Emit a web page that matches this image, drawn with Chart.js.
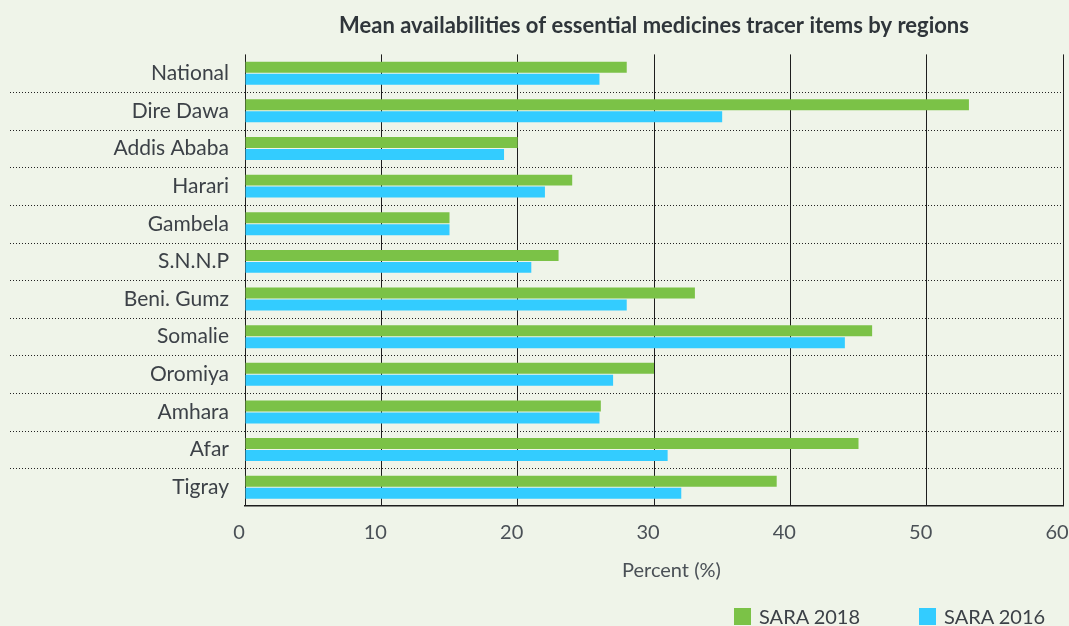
<!DOCTYPE html>
<html>
<head>
<meta charset="utf-8">
<script src="https://cdn.jsdelivr.net/npm/chart.js@4.4.1/dist/chart.umd.min.js"></script>
<style>
  html, body { margin: 0; padding: 0; background: #eff4e9; }
  #wrap { position: relative; width: 1069px; height: 626px; overflow: hidden; }
  .overlay { position: absolute; font-family: Lato, "Open Sans", sans-serif; font-size: 20px; line-height: 24px; white-space: nowrap; }
  #axis-title { left: 622px; top: 557px; color: #4a5056; }
  #legend { left: 734px; top: 604px; display: flex; gap: 59px; color: #3c4147; }
  #legend .item { display: flex; align-items: center; }
  #legend .swatch { width: 17px; height: 17px; margin-right: 8px; }
</style>
</head>
<body>
<div id="wrap">
  <canvas id="chart" width="1069" height="626"></canvas>
  <div id="axis-title" class="overlay">Percent (%)</div>
  <div id="legend" class="overlay"></div>
</div>
<script>
// Regions (top to bottom) and mean availability of tracer items, %
const regions = ['National', 'Dire Dawa', 'Addis Ababa', 'Harari', 'Gambela', 'S.N.N.P',
                 'Beni. Gumz', 'Somalie', 'Oromiya', 'Amhara', 'Afar', 'Tigray'];
const sara2018 = [28, 53.1, 20, 24, 15, 23, 33, 46, 30, 26.1, 45, 39];
const sara2016 = [26, 35, 19, 22, 15, 21, 28, 44, 27, 26, 31, 32];
const percentTicks = [0, 10, 20, 30, 40, 50, 60];

const BG = '#eff4e9';
const GREEN = '#7bc247';
const BLUE = '#33ccff';
const INK = '#3c4147';

Chart.defaults.font.family = 'Lato, "Open Sans", sans-serif';

// Page background behind the chart
const background = {
  id: 'background',
  beforeDraw(chart) {
    const { ctx, width, height } = chart;
    ctx.save();
    ctx.fillStyle = BG;
    ctx.fillRect(0, 0, width, height);
    ctx.restore();
  }
};

// Dotted separators between regions, running under the labels as well
const rowSeparators = {
  id: 'rowSeparators',
  beforeDatasetsDraw(chart) {
    const { ctx, chartArea } = chart;
    const y = chart.scales.y;
    ctx.save();
    ctx.strokeStyle = '#222';
    ctx.lineWidth = 1;
    ctx.setLineDash([1, 2]);
    for (let i = 0; i < regions.length - 1; i++) {
      const py = Math.round((y.getPixelForValue(i) + y.getPixelForValue(i + 1)) / 2) + 0.5;
      ctx.beginPath();
      ctx.moveTo(10, py);
      ctx.lineTo(chartArea.right + 2, py);
      ctx.stroke();
    }
    ctx.restore();
  }
};

const chart = new Chart(document.getElementById('chart'), {
  type: 'bar',
  data: {
    labels: regions,
    datasets: [
      { label: 'SARA 2018', data: sara2018, backgroundColor: GREEN },
      { label: 'SARA 2016', data: sara2016, backgroundColor: BLUE }
    ]
  },
  options: {
    indexAxis: 'y',
    responsive: false,
    animation: false,
    devicePixelRatio: 1,
    categoryPercentage: 0.637,
    barPercentage: 0.917,
    layout: { padding: { left: 0, right: 6, top: 0, bottom: 44 } },
    plugins: {
      legend: { display: false },
      tooltip: { enabled: false },
      title: {
        display: true,
        fullSize: false,
        text: 'Mean availabilities of essential medicines tracer items by regions',
        color: '#2f353a',
        font: { size: 22, weight: 'bold' },
        padding: { top: 13, bottom: 15 }
      }
    },
    scales: {
      x: {
        min: 0,
        max: 60,
        afterBuildTicks(scale) { scale.ticks = percentTicks.map(v => ({ value: v })); },
        afterFit(scale) {
          scale.height = 76;
          scale.paddingLeft = 0;
          scale.paddingRight = 0;
        },
        grid: { color: '#1e1e1e', lineWidth: 1, drawTicks: false },
        border: { display: true, color: '#1e1e1e', width: 1.5 },
        ticks: { color: '#4a5056', font: { size: 20 }, padding: 15, labelOffset: -6 }
      },
      y: {
        afterFit(scale) { scale.width = 245; },
        grid: { display: false, drawTicks: false },
        border: { display: false },
        ticks: { color: INK, font: { size: 21 }, padding: 16 }
      }
    }
  },
  plugins: [background, rowSeparators]
});

// Legend built from the chart's own datasets
const legendEl = document.getElementById('legend');
chart.data.datasets.forEach(ds => {
  const item = document.createElement('div');
  item.className = 'item';
  const sw = document.createElement('span');
  sw.className = 'swatch';
  sw.style.background = ds.backgroundColor;
  const txt = document.createElement('span');
  txt.textContent = ds.label;
  item.appendChild(sw);
  item.appendChild(txt);
  legendEl.appendChild(item);
});
</script>
</body>
</html>
